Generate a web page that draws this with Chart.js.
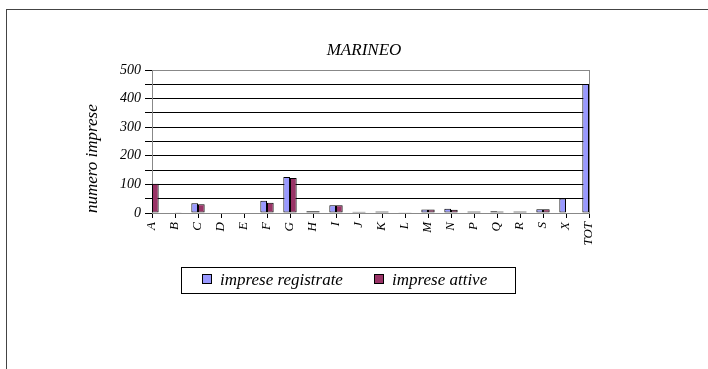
<!DOCTYPE html>
<html>
<head>
<meta charset="utf-8">
<script src="https://cdn.jsdelivr.net/npm/chart.js@4/dist/chart.umd.min.js"></script>
<style>
  body { margin: 0; background: #fff; }
  #wrap { position: relative; width: 708px; height: 369px; overflow: hidden; }
  #frame { position: absolute; left: 6px; top: 9px; width: 720px; height: 400px;
           border-top: 1px solid #444; border-left: 1px solid #444; }
  #chart { position: absolute; left: 0; top: 0; }
  #title { position: absolute; left: 0; width: 728px; top: 40px; text-align: center;
           font: italic 17px "Liberation Serif", serif; }
  #legend { position: absolute; left: 181px; top: 267px; width: 333px; height: 25px;
            border: 1px solid #000; font: italic 17px "Liberation Serif", serif; }
  .item { position: absolute; top: 2px; white-space: nowrap; }
  .sw { display: inline-block; width: 8px; height: 8px; border: 1px solid #000;
        margin-right: 8px; vertical-align: 1px; }
</style>
</head>
<body>
<div id="wrap">
  <div id="frame"></div>
  <canvas id="chart" width="708" height="369"></canvas>
  <div id="title">MARINEO</div>
  <div id="legend">
    <span class="item" style="left:20px"><span class="sw" style="background:#9999ff"></span>imprese registrate</span>
    <span class="item" style="left:192px"><span class="sw" style="background:#993366"></span>imprese attive</span>
  </div>
</div>
<script>
// categories (sezioni di attività) and counts
const categories = ['A', 'B', 'C', 'D', 'E', 'F', 'G', 'H', 'I', 'J', 'K', 'L', 'M', 'N', 'P', 'Q', 'R', 'S', 'X', 'TOT'];
const impreseRegistrate = [104, 2, 34, 0, 0, 43, 126, 6, 27, 4, 5, 3, 12, 15, 5, 6, 5, 13, 51, 451];
const impreseAttive = [102, 1, 31, 0, 0, 36, 122, 6, 27, 4, 5, 3, 12, 11, 5, 5, 5, 13, 0, 388];
const yTicks = [0, 100, 200, 300, 400, 500];

const serif = '"Liberation Serif", "Times New Roman", serif';

// gray border round the plot area, like the spreadsheet one
const plotFrame = {
  id: 'plotFrame',
  beforeDatasetsDraw(chart) {
    const { ctx, chartArea: a } = chart;
    ctx.save();
    ctx.strokeStyle = '#888';
    ctx.lineWidth = 1;
    ctx.strokeRect(a.left + 0.5, a.top + 0.5, a.right - a.left, a.bottom - a.top);
    ctx.restore();
  }
};

new Chart(document.getElementById('chart'), {
  type: 'bar',
  data: {
    labels: categories,
    datasets: [{
      label: 'imprese registrate',
      data: impreseRegistrate,
      backgroundColor: '#9999ff',
      borderColor: '#000',
      borderWidth: 1,
      borderSkipped: false
    }, {
      label: 'imprese attive',
      data: impreseAttive,
      backgroundColor: '#993366',
      borderColor: '#000',
      borderWidth: 1,
      borderSkipped: false
    }]
  },
  plugins: [plotFrame],
  options: {
    responsive: false,
    animation: false,
    layout: { padding: { left: 82, right: 119, top: 70, bottom: 100 } },
    datasets: { bar: { categoryPercentage: 0.58, barPercentage: 1 } },
    scales: {
      x: {
        offset: false,
        grid: { offset: false, drawOnChartArea: false, color: '#000', tickLength: 5 },
        border: { color: '#000' },
        ticks: {
          color: '#000',
          minRotation: 90,
          maxRotation: 90,
          autoSkip: false,
          padding: 4,
          font: { family: serif, style: 'italic', size: 13 }
        },
        afterFit(scale) { scale.height = 56; }
      },
      y: {
        min: 0,
        max: 500,
        grid: { color: '#000', tickLength: 7 },
        border: { color: '#000' },
        ticks: {
          stepSize: 50,
          autoSkip: false,
          color: '#000',
          padding: 4,
          font: { family: serif, style: 'italic', size: 14 },
          callback: v => yTicks.includes(v) ? v : ''
        },
        title: {
          display: true,
          align: 'start',
          text: 'numero imprese',
          color: '#000',
          padding: 0,
          font: { family: serif, style: 'italic', size: 17 }
        },
        afterFit(scale) { scale.width = 70; }
      }
    },
    plugins: {
      legend: { display: false },
      title: { display: false },
      tooltip: { enabled: false }
    }
  }
});
</script>
</body>
</html>
